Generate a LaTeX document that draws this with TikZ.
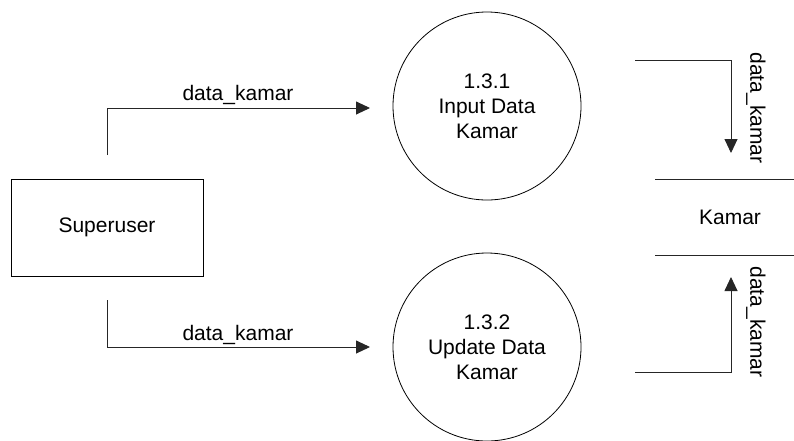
\documentclass[tikz,border=0pt]{standalone}
\usepackage{fontspec}
\setmainfont{Liberation Sans}
\usetikzlibrary{arrows.meta}
\begin{document}
\begin{tikzpicture}[x=1pt,y=-1pt,
  every node/.style={font=\fontsize{21}{25}\selectfont, text=black},
  flow/.style={draw=black!85, line width=0.9pt, -{Triangle[length=14pt,width=13pt]}},
  entity/.style={draw=black, line width=0.8pt, minimum width=192pt, minimum height=97pt, inner sep=0pt},
  process/.style={draw=black, line width=0.8pt, circle, minimum size=188pt, inner sep=0pt, align=center},
  store/.style={draw=black!85, line width=0.9pt},
  flowlabel/.style={inner sep=2pt}]
  \useasboundingbox (0,0) rectangle (794,440);

  % external entity
  \node[entity] (su) at (107,227.5) {Superuser};

  % processes
  \node[process] (p1) at (487,106) {1.3.1\\Input Data\\Kamar};
  \node[process] (p2) at (487,347) {1.3.2\\Update Data\\Kamar};

  % data store
  \coordinate (dsTL) at (655,179);
  \coordinate (dsTR) at (794,179);
  \coordinate (dsBL) at (655,255);
  \coordinate (dsBR) at (794,255);
  \draw[store] (dsTL) -- (dsTR);
  \draw[store] (dsBL) -- (dsBR);
  \node (ds) at (730,217) {Kamar};

  % Superuser -> 1.3.1
  \coordinate (s1) at (107,155);
  \coordinate (e1) at (370,108);
  \draw[flow] (s1) |- (e1);
  \node[flowlabel] at (238,95) {data\_kamar};

  % Superuser -> 1.3.2
  \coordinate (s2) at (107,300);
  \coordinate (e2) at (370,347);
  \draw[flow] (s2) |- (e2);
  \node[flowlabel] at (238,335) {data\_kamar};

  % 1.3.1 -> Kamar
  \coordinate (s3) at (635,60);
  \coordinate (e3) at (731,153);
  \draw[flow] (s3) -| (e3);
  \node[flowlabel, rotate=-90] at (756,108) {data\_kamar};

  % 1.3.2 -> Kamar
  \coordinate (s4) at (635,372);
  \coordinate (e4) at (731,277);
  \draw[flow] (s4) -| (e4);
  \node[flowlabel, rotate=-90] at (756,322) {data\_kamar};
\end{tikzpicture}
\end{document}
